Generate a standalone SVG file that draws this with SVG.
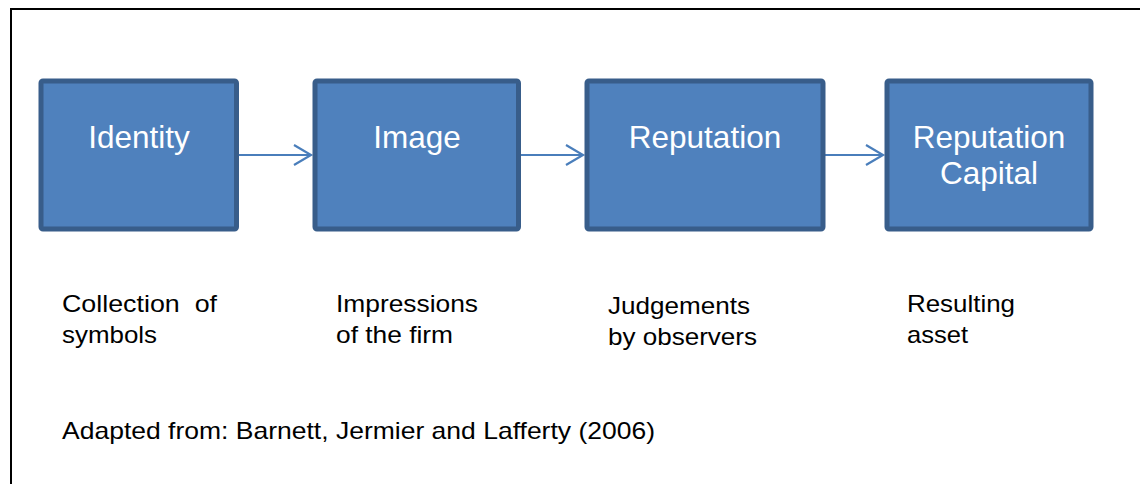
<svg xmlns="http://www.w3.org/2000/svg" width="1140" height="484" viewBox="0 0 1140 484">
  <style>
    .box { fill: #4F81BD; stroke: #385D8A; stroke-width: 5; }
    .btxt { font-family: "Liberation Sans", Arial, sans-serif; font-size: 31.5px; fill: #FFFFFF; text-anchor: middle; }
    .lbl { font-family: "Liberation Sans", Arial, sans-serif; font-size: 24px; fill: #000000; }
    .conn { stroke: #4A7EBB; stroke-width: 2; fill: none; }
  </style>
  <defs>
    <marker id="open" markerUnits="userSpaceOnUse" markerWidth="24" markerHeight="24" viewBox="-20 -12 24 24" refX="0" refY="0" orient="auto">
      <path d="M-17,-10 L0,0 L-17,10" fill="none" stroke="#4A7EBB" stroke-width="2.2"/>
    </marker>
  </defs>
  <rect x="0" y="0" width="1140" height="484" fill="#FFFFFF"/>
  <rect id="frame" x="11" y="9" width="1140" height="490" fill="none" stroke="#000000" stroke-width="2"/>

  <g id="connectors">
    <line class="conn" x1="237" y1="155" x2="311" y2="155" marker-end="url(#open)"/>
    <line class="conn" x1="521" y1="155" x2="583" y2="155" marker-end="url(#open)"/>
    <line class="conn" x1="825" y1="155" x2="883" y2="155" marker-end="url(#open)"/>
  </g>

  <g id="identity">
    <rect class="box" x="41" y="81" width="195.5" height="148" rx="2"/>
    <text class="btxt" x="139" y="148">Identity</text>
  </g>
  <g id="image">
    <rect class="box" x="315" y="81" width="203.5" height="148" rx="2"/>
    <text class="btxt" x="417" y="148">Image</text>
  </g>
  <g id="reputation">
    <rect class="box" x="587" y="81" width="236" height="148" rx="2"/>
    <text class="btxt" x="705" y="148">Reputation</text>
  </g>
  <g id="reputation-capital">
    <rect class="box" x="887" y="81" width="204" height="148" rx="2"/>
    <text class="btxt" x="989" y="148">Reputation</text>
    <text class="btxt" x="989" y="184">Capital</text>
  </g>

  <g id="labels">
    <text class="lbl" x="62" y="312" xml:space="preserve" textLength="155" lengthAdjust="spacingAndGlyphs">Collection  of</text>
    <text class="lbl" x="62" y="343" textLength="95" lengthAdjust="spacingAndGlyphs">symbols</text>
    <text class="lbl" x="336" y="312" textLength="142" lengthAdjust="spacingAndGlyphs">Impressions</text>
    <text class="lbl" x="336" y="343" textLength="117" lengthAdjust="spacingAndGlyphs">of the firm</text>
    <text class="lbl" x="608" y="314" textLength="142" lengthAdjust="spacingAndGlyphs">Judgements</text>
    <text class="lbl" x="608" y="345" textLength="149" lengthAdjust="spacingAndGlyphs">by observers</text>
    <text class="lbl" x="907" y="312" textLength="108" lengthAdjust="spacingAndGlyphs">Resulting</text>
    <text class="lbl" x="907" y="343" textLength="61" lengthAdjust="spacingAndGlyphs">asset</text>
    <text class="lbl" x="62" y="438.5" textLength="593" lengthAdjust="spacingAndGlyphs">Adapted from: Barnett, Jermier and Lafferty (2006)</text>
  </g>
</svg>
